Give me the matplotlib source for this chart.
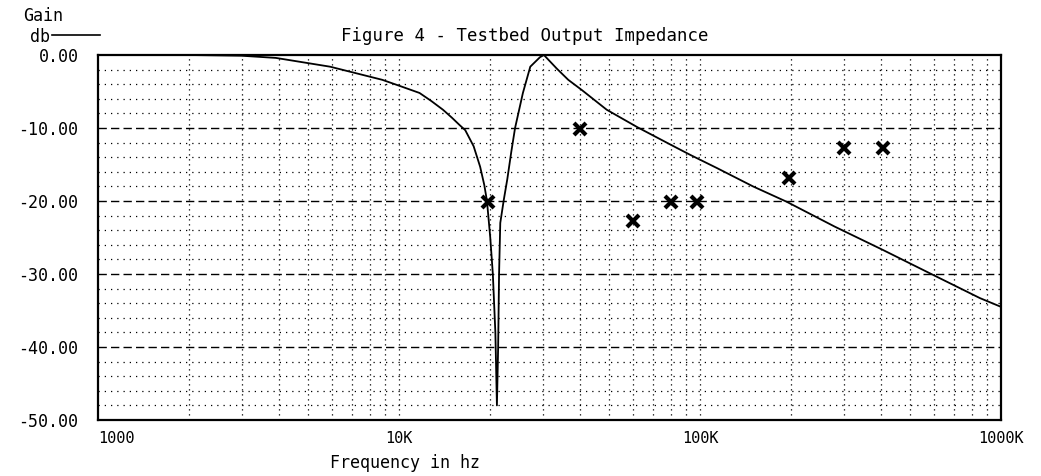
import numpy as np
import matplotlib
matplotlib.use("Agg")
import matplotlib.pyplot as plt

# measured curve (frequency in Hz, gain in dB)
freq = [1000, 2000, 3000, 3900, 5900, 8800, 10000, 11700, 12800, 14000, 15000,
        15900, 16600, 17700, 18600, 19200, 19600, 20100, 20500, 20900, 21150,
        21350, 21500, 21700, 22300, 22900, 23600, 24300, 25800, 27300, 29400,
        30300, 33500, 36500, 40500, 49000, 62000, 80000, 93000, 114000,
        150000, 194000, 280000, 405000, 580000, 851000, 1000000]
gain = [0.0, 0.0, -0.1, -0.4, -1.6, -3.4, -4.2, -5.2, -6.3, -7.5, -8.6,
        -9.6, -10.3, -12.5, -15.3, -17.8, -20.0, -25.0, -30.0, -38.0, -48.0,
        -40.0, -30.0, -23.0, -19.8, -17.0, -13.3, -10.0, -5.2, -1.6, -0.3,
        0.0, -1.9, -3.4, -4.8, -7.5, -9.9, -12.3, -13.7, -15.5,
        -18.0, -20.1, -23.5, -26.7, -29.9, -33.3, -34.5]

# measured points (x markers)
meas_freq = [19700, 40000, 60000, 80000, 98000, 198000, 300000, 405000]
meas_gain = [-20.2, -10.2, -22.7, -20.1, -20.1, -16.8, -12.7, -12.7]

x_ticks = [1e3, 1e4, 1e5, 1e6]
x_labels = ['1000', '10K', '100K', '1000K']
y_ticks = [0, -10, -20, -30, -40, -50]
y_labels = ['0.00', '-10.00', '-20.00', '-30.00', '-40.00', '-50.00']

FONT = 'DejaVu Sans Mono'

fig = plt.figure(figsize=(10.41, 4.76), dpi=100)
ax = fig.add_axes([98/1041, 1 - 420/476, (1001 - 98)/1041, (420 - 55)/476])

ax.set_xscale('log')
ax.set_xlim(1e3, 1e6)
ax.set_ylim(-50, 0)

# grid: dotted minors everywhere, dashed majors on the gain axis
minor_x = [m * 10**d for d in range(3, 6) for m in range(2, 10)] + [1e4, 1e5]
for xv in minor_x:
    ax.axvline(xv, color='black', lw=0.9, ls=(0, (1, 3)), zorder=1)
for yv in range(-48, 0, 2):
    if yv % 10 == 0:
        ax.axhline(yv, color='black', lw=1.0, ls=(0, (6, 3)), zorder=1)
    else:
        ax.axhline(yv, color='black', lw=0.9, ls=(0, (1, 4)), zorder=1)

ax.plot(freq, gain, color='black', lw=1.3, zorder=3)
ax.plot(meas_freq, meas_gain, ls='none', marker='x', ms=9, mew=3,
        color='black', zorder=4)

ax.set_xticks(x_ticks)
ax.set_xticklabels(x_labels, fontfamily=FONT, fontsize=11)
ax.set_xticks([], minor=True)
ax.set_yticks(y_ticks)
ax.set_yticklabels(y_labels, fontfamily=FONT, fontsize=12)
ax.tick_params(length=0, pad=14)
ax.tick_params(axis='x', pad=8)
lbls = ax.get_xticklabels()
lbls[0].set_ha('left')
# last label kept centred so it stays inside the picture
lbls[-1].set_ha('center')

for s in ax.spines.values():
    s.set_linewidth(1.6)
    s.set_color('black')

fig.text(525/1041, 1 - 36/476, 'Figure 4 - Testbed Output Impedance',
         ha='center', va='center', fontfamily=FONT, fontsize=12.5)
fig.text(405/1041, 1 - 463/476, 'Frequency in hz', ha='center', va='center',
         fontfamily=FONT, fontsize=12)
fig.text(43/1041, 1 - 16/476, 'Gain', ha='center', va='center',
         fontfamily=FONT, fontsize=12)
fig.text(30/1041, 1 - 37/476, 'db', ha='left', va='center',
         fontfamily=FONT, fontsize=12)
fig.add_artist(plt.Line2D([52/1041, 100/1041], [1 - 35/476, 1 - 35/476],
                          color='black', lw=1.2))

fig.savefig('out.png', dpi=100)
